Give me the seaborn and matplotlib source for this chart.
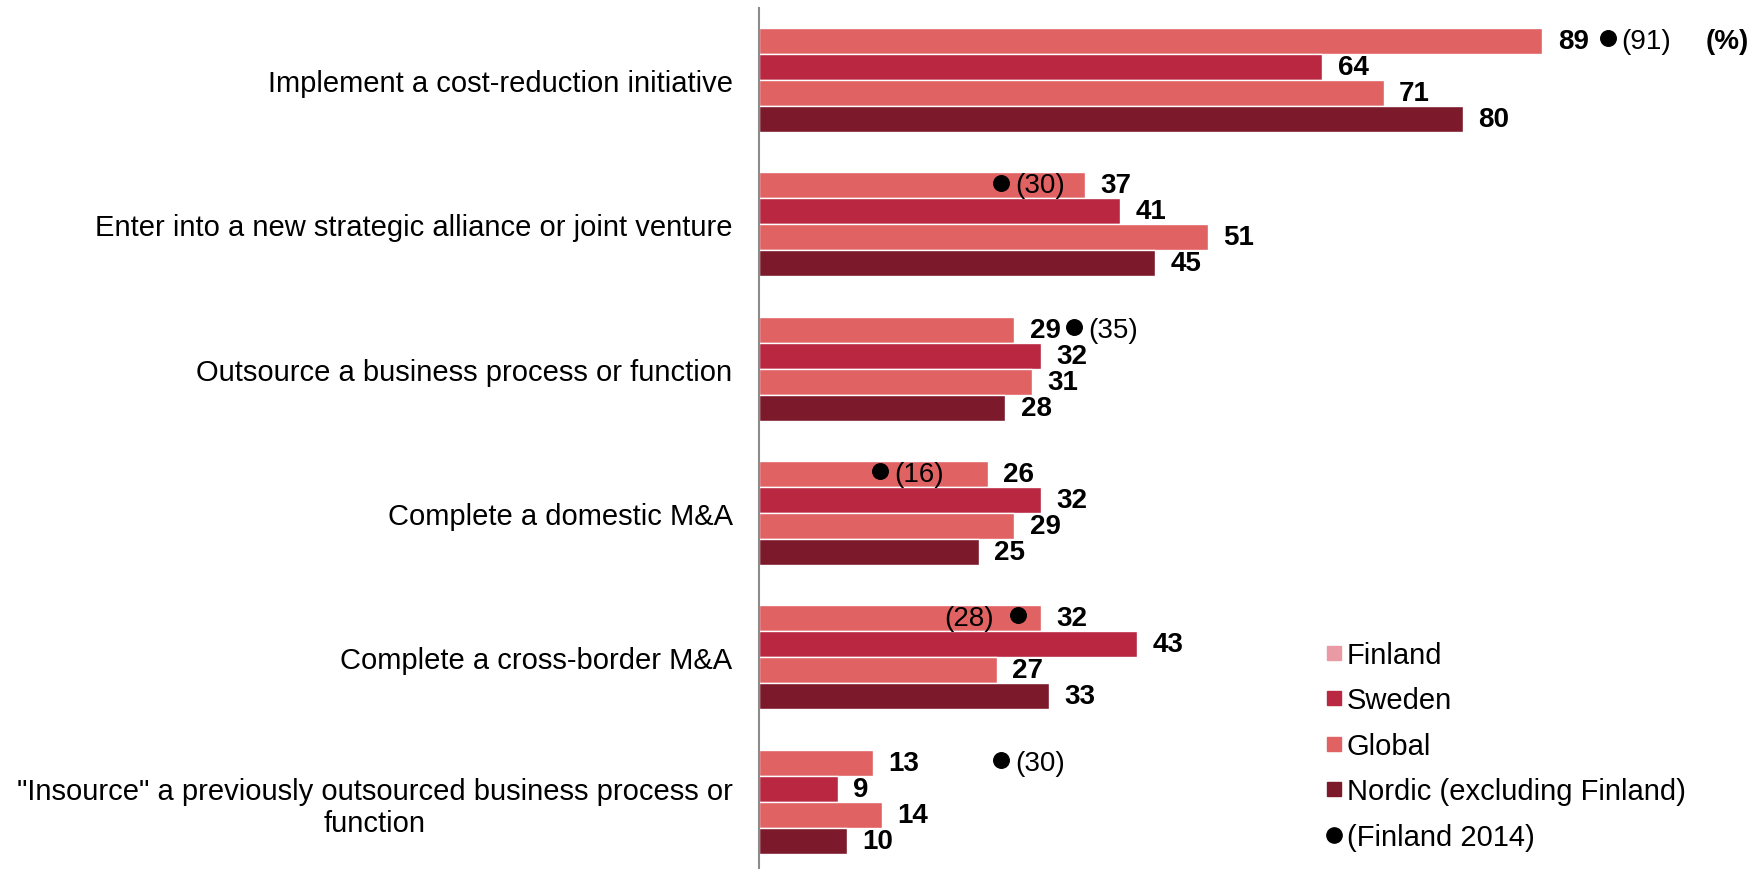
import matplotlib
matplotlib.use("Agg")
import matplotlib.pyplot as plt
import seaborn as sns
import pandas as pd
from matplotlib.lines import Line2D

# ---- data ----
categories = [
    "Implement a cost-reduction initiative",
    "Enter into a new strategic alliance or joint venture",
    "Outsource a business process or function",
    "Complete a domestic M&A",
    "Complete a cross-border M&A",
    "\"Insource\" a previously outsourced business process or\nfunction",
]
series = ["Finland", "Sweden", "Global", "Nordic (excluding Finland)"]
finland = [89, 37, 29, 26, 32, 13]
sweden = [64, 41, 32, 32, 43, 9]
global_ = [71, 51, 31, 29, 27, 14]
nordic = [80, 45, 28, 25, 33, 10]
finland_2014 = [91, 30, 35, 16, 28, 30]
finland_2014_labels = ["(91)", "(30)", "(35)", "(16)", "(28)", "(30)"]

# ---- styling / layout ----
dot_offset = [5.4, -2.5, 0.8, -2.2, 1.4, -2.5]     # dot shift (data units)
dot_label_side = ["right", "right", "right", "right", "left", "right"]
bar_colors = {"Finland": "#E06262", "Sweden": "#B92741",
              "Global": "#E06262", "Nordic (excluding Finland)": "#7C1A2C"}
legend_colors = ["#E99AA5", "#B92741", "#E06262", "#7C1A2C"]
FONT = "Liberation Sans"
FS = 21
FS_NUM = 20

rows = []
for i, c in enumerate(categories):
    for s, vals in zip(series, [finland, sweden, global_, nordic]):
        rows.append({"category": c, "series": s, "value": vals[i]})
df = pd.DataFrame(rows)

sns.set_theme(style="white")
plt.rcParams["font.family"] = [FONT, "DejaVu Sans"]
plt.rcParams["text.color"] = "black"
plt.rcParams["ytick.color"] = "black"

fig = plt.figure(figsize=(17.63, 8.70), dpi=100)
ax = fig.add_axes([0.4305, -0.0055, 0.4993, 0.9952])

sns.barplot(data=df, x="value", y="category", hue="series", order=categories,
            hue_order=series, palette=bar_colors, orient="h", width=0.72,
            saturation=1, legend=False, ax=ax)

for cont in ax.containers:
    ax.bar_label(cont, padding=11, fontsize=FS_NUM, fontweight="bold", color="black")

ax.set_xlim(0, 100)
ax.set_ylim(len(categories) - 0.5, -0.5)

# Finland 2014 dots on the Finland row
bar_h = 0.72 / 4
for i, (v, lab) in enumerate(zip(finland_2014, finland_2014_labels)):
    y = i - 1.5 * bar_h
    x = v + dot_offset[i]
    ax.scatter([x], [y - 0.02], s=125, color="black", zorder=5, clip_on=False)
    if dot_label_side[i] == "right":
        ax.text(x + 1.6, y, lab, ha="left", va="center", fontsize=FS_NUM, color="black")
    else:
        ax.text(x - 2.7, y, lab, ha="right", va="center", fontsize=FS_NUM, color="black")

ax.text(110, -1.5 * bar_h, "(%)", ha="center", va="center", fontsize=FS_NUM,
        fontweight="bold", color="black")

# axes styling
for s in ["top", "right", "bottom"]:
    ax.spines[s].set_visible(False)
ax.spines["left"].set_color("#8c8c8c")
ax.spines["left"].set_linewidth(1.5)
ax.set_xticks([])
ax.set_xlabel("")
ax.set_ylabel("")
ax.set_yticks(range(len(categories)))
ax.set_yticklabels(categories, fontsize=FS, multialignment="center", color="black")
ax.tick_params(axis="y", which="major", length=0, pad=19)
ax.set_yticks([i - 0.5 for i in range(len(categories) + 1)], minor=True)
ax.tick_params(axis="y", which="minor", length=7, width=1.5, color="#8c8c8c",
               direction="out")

handles = [Line2D([0], [0], marker="s", linestyle="none", markersize=10.5,
                  markerfacecolor=c, markeredgecolor=c) for c in legend_colors]
handles.append(Line2D([0], [0], marker="o", linestyle="none", markersize=11,
                      markerfacecolor="black", markeredgecolor="black"))
leg = fig.legend(handles, series + ["(Finland 2014)"], loc="upper left",
                 bbox_to_anchor=(0.745, 0.2757), frameon=False, fontsize=FS,
                 handlelength=0.6, handletextpad=0.15, labelspacing=0.6,
                 borderaxespad=0)
for t in leg.get_texts():
    t.set_color("black")

fig.savefig("out.png", dpi=100)
